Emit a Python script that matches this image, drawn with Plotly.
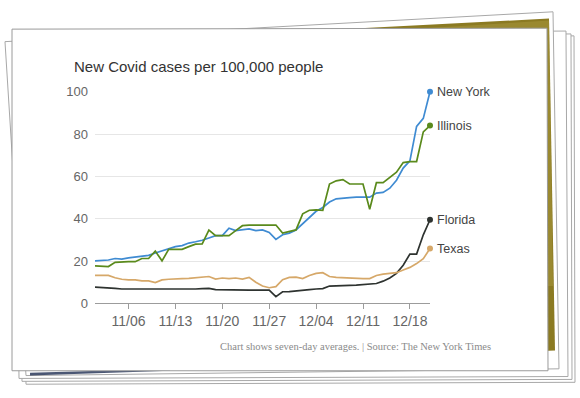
import pandas as pd
import plotly.graph_objects as go

W, H = 580, 398

# ---- data (7-day average new cases per 100k), 11/01 .. 12/21 ----
dates = pd.date_range("2020-11-01", "2020-12-21", freq="D")

new_york = [20.1, 20.3, 20.5, 21.2, 20.9, 21.5, 22.0, 22.3, 22.7, 23.8,
            24.7, 25.9, 26.8, 27.3, 28.5, 29.1, 29.8, 30.9, 32.0, 32.0,
            35.5, 34.4, 34.7, 35.2, 34.4, 34.7, 33.5, 30.2, 32.4, 33.2,
            34.7, 37.7, 40.8, 43.5, 45.3, 47.9, 49.4, 49.8, 50.0, 50.2,
            50.2, 50.2, 52.1, 52.4, 54.4, 58.2, 63.9, 67.3, 83.6, 87.4,
            100.0]
illinois = [17.7, 17.7, 17.4, 19.4, 19.7, 19.7, 19.7, 21.2, 21.2, 24.7,
            20.1, 25.5, 25.5, 25.5, 26.8, 28.0, 28.1, 34.6, 32.0, 32.0,
            32.0, 34.4, 36.7, 37.0, 37.0, 37.0, 37.0, 37.0, 33.2, 34.0,
            34.7, 42.3, 44.0, 44.2, 44.0, 56.4, 57.9, 58.5, 56.4, 56.4,
            56.4, 44.5, 57.0, 57.0, 59.7, 62.0, 66.5, 67.0, 67.0, 81.0,
            84.0]
florida = [7.7, 7.6, 7.4, 7.1, 6.8, 6.8, 6.8, 6.8, 6.7, 6.5,
           6.5, 6.6, 6.6, 6.7, 6.7, 6.8, 7.0, 7.1, 6.5, 6.4,
           6.4, 6.3, 6.3, 6.3, 6.3, 6.3, 6.3, 3.2, 5.5, 5.6,
           6.0, 6.2, 6.5, 6.8, 7.0, 8.2, 8.2, 8.2, 8.5, 8.6,
           8.9, 8.9, 9.4, 10.5, 12.0, 14.2, 18.0, 23.3, 23.3, 32.4,
           39.5]
texas = [13.2, 13.2, 13.2, 12.1, 11.4, 11.1, 11.1, 10.6, 10.6, 9.8,
         11.1, 11.4, 11.4, 11.7, 11.8, 12.1, 12.6, 12.7, 11.5, 12.0,
         11.7, 12.0, 11.5, 12.3, 10.0, 8.2, 7.4, 7.9, 11.2, 12.3,
         12.4, 11.7, 13.2, 14.2, 14.5, 12.7, 12.3, 12.1, 12.0, 11.8,
         11.7, 11.7, 13.2, 13.8, 14.1, 14.5, 15.8, 17.0, 18.8, 21.1,
         25.9]

series_names = ["New York", "Illinois", "Florida", "Texas"]
series_values = [new_york, illinois, florida, texas]
series_colors = ["#3f8bd2", "#5a8a1c", "#2e3330", "#d6a869"]

x_tick_dates = ["2020-11-06", "2020-11-13", "2020-11-20", "2020-11-27",
                "2020-12-04", "2020-12-11", "2020-12-18"]
x_tick_labels = ["11/06", "11/13", "11/20", "11/27", "12/04", "12/11", "12/18"]
y_tick_values = [0, 20, 40, 60, 80, 100]

title_text = "New Covid cases per 100,000 people"
source_text = "Chart shows seven-day averages. | Source: The New York Times"

FONT = "Liberation Sans"


def px(x, y):
    return x / W, 1 - y / H


def path(points):
    parts = []
    for i, (x, y) in enumerate(points):
        X, Y = px(x, y)
        parts.append(("M" if i == 0 else "L") + f"{X:.5f},{Y:.5f}")
    return " ".join(parts) + " Z"


fig = go.Figure()

for name, vals, col in zip(series_names, series_values, series_colors):
    fig.add_trace(go.Scatter(
        x=dates, y=vals, mode="lines", name=name,
        line=dict(color=col, width=1.7), cliponaxis=False,
        hoverinfo="skip"))
    fig.add_trace(go.Scatter(
        x=[dates[-1]], y=[vals[-1]], mode="markers",
        marker=dict(color=col, size=6), cliponaxis=False,
        hoverinfo="skip", showlegend=False))

annotations = []
for name, vals in zip(series_names, series_values):
    annotations.append(dict(
        x=dates[-1], y=vals[-1], xref="x", yref="y", text=name,
        showarrow=False, xanchor="left", yanchor="middle", xshift=5,
        font=dict(family=FONT, size=12.5, color="#444")))

tx, ty = px(72, 62)
annotations.append(dict(x=tx, y=ty, xref="paper", yref="paper", text=title_text,
                        showarrow=False, xanchor="left", yanchor="middle",
                        font=dict(family=FONT, size=15, color="#333")))
sx, sy = px(493, 353)
annotations.append(dict(x=sx, y=sy, xref="paper", yref="paper", text=source_text,
                        showarrow=False, xanchor="right", yanchor="middle",
                        font=dict(family="Liberation Serif", size=10.5, color="#8a8a8a")))

# ---- paper-stack decoration ----
shapes = []
def add_poly(points, fill, line="#a8a8a8", lw=1, opacity=1):
    shapes.append(dict(type="path", path=path(points), xref="paper", yref="paper",
                       fillcolor=fill, line=dict(color=line, width=lw),
                       layer="below", opacity=opacity))

NOLINE = "rgba(0,0,0,0)"
# stacked sheets behind
add_poly([(20, 34), (574, 30), (575, 390), (26, 392)], "white")
add_poly([(17, 31), (571, 28), (572, 387), (22, 389)], "white")
add_poly([(15, 28), (566, 25), (568, 384), (19, 386)], "white")
# tilted photo print with olive image
add_poly([(5, 36), (553, 5), (559, 376), (26, 383)], "white")
add_poly([(22, 40), (549, 12), (555, 357), (45, 376)], "#8b7a22", line=NOLINE, lw=0)
add_poly([(300, 30), (549, 14), (553, 290), (300, 290)], "#a8953d", line=NOLINE, lw=0, opacity=0.55)
# dark strip bottom-left
add_poly([(30, 380), (170, 376), (170, 378), (30, 383)], "#2c3a5c", line=NOLINE, lw=0, opacity=0.85)
# front card
add_poly([(12, 23), (547, 22), (548, 378), (12, 378)], "white", line="#9a9a9a")

fig.update_layout(
    width=W, height=H, autosize=False,
    margin=dict(l=0, r=0, t=0, b=0),
    paper_bgcolor="white", plot_bgcolor="rgba(0,0,0,0)",
    showlegend=False,
    annotations=annotations,
    shapes=shapes,
    xaxis=dict(
        type="date", domain=[95 / W, 430 / W],
        range=[dates[0], dates[-1]],
        showgrid=False, zeroline=False,
        showline=True, linecolor="#9c9c9c", linewidth=1,
        ticks="outside", ticklen=5, tickcolor="#9c9c9c", tickwidth=1,
        tickvals=x_tick_dates, ticktext=x_tick_labels,
        tickfont=dict(family=FONT, size=14, color="#666"),
        fixedrange=True),
    yaxis=dict(
        domain=[1 - 308 / H, 1 - 88 / H], range=[0, 100],
        tickvals=y_tick_values,
        showgrid=True, gridcolor="#e6e6e6", gridwidth=1,
        zeroline=False, showline=False, ticks="",
        ticklabelstandoff=6,
        tickfont=dict(family=FONT, size=13, color="#666"),
        fixedrange=True),
)

fig.write_html("out.html", config={"displayModeBar": False},
               post_script="document.body.style.margin='0px';document.body.style.overflow='hidden';")
